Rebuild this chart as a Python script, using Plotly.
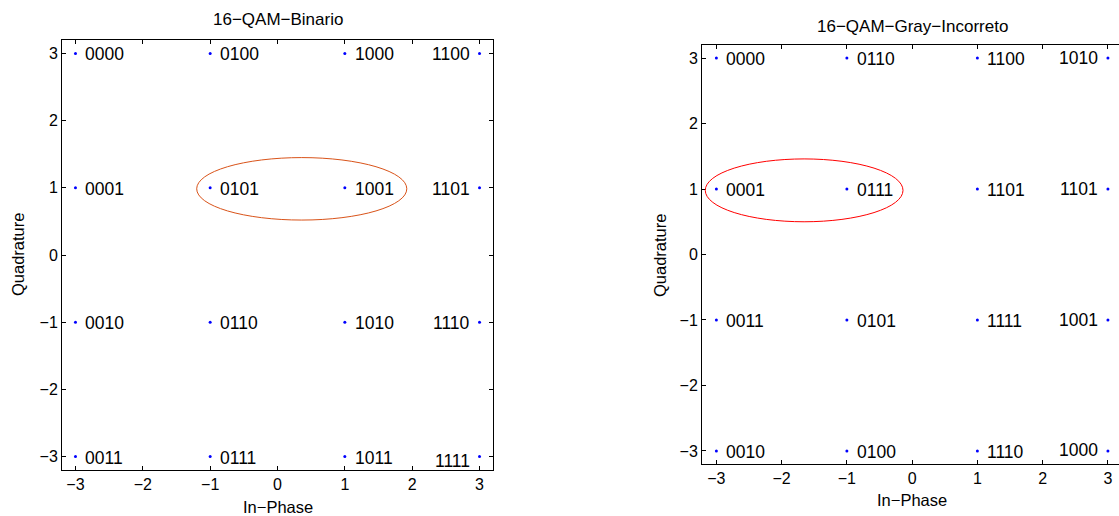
import plotly.graph_objects as go

W, H = 1119, 516

# ---------------- data ----------------
in_phase = [-3, -1, 1, 3]          # column positions (I)
quadrature = [3, 1, -1, -3]        # row positions (Q)

binario_labels = [
    ["0000", "0100", "1000", "1100"],
    ["0001", "0101", "1001", "1101"],
    ["0010", "0110", "1010", "1110"],
    ["0011", "0111", "1011", "1111"],
]
gray_labels = [
    ["0000", "0110", "1100", "1010"],
    ["0001", "0111", "1101", "1101"],
    ["0011", "0101", "1111", "1001"],
    ["0010", "0100", "1110", "1000"],
]
# ellipse bounds (x0, x1, y0, y1) in data units
ellipse_binario = [-1.20, 1.92, 0.52, 1.45]
ellipse_gray = [-3.17, -0.14, 0.50, 1.46]

titles = ["16\u2212QAM\u2212Binario", "16\u2212QAM\u2212Gray\u2212Incorreto"]
xlabel = "In\u2212Phase"
ylabel = "Quadrature"
ticks = [-3, -2, -1, 0, 1, 2, 3]

# ---------------- style ----------------
FONT = "Liberation Sans, Arial, Helvetica, sans-serif"
# pixel boxes of the two axes: (left, right, top, bottom)
boxes = [(62, 493, 40, 470), (702, 1119, 45, 464)]
xranges = [[-3.2, 3.2], [-3.22, 3.17]]
yranges = [[-3.2, 3.2], [-3.2, 3.2]]
ellipse_colors = ["#D95319", "#FF0000"]
# small vertical tweaks seen in the reference text placement
label_yshift = [{"1111": -3}, {"1010": 1, "1101r": 1, "1001": 1, "1000": 2}]

fig = go.Figure()

for k, labels in enumerate([binario_labels, gray_labels]):
    xs = [x for q in quadrature for x in in_phase]
    ys = [q for q in quadrature for x in in_phase]
    xa = "x" if k == 0 else "x2"
    ya = "y" if k == 0 else "y2"
    fig.add_trace(go.Scatter(
        x=xs, y=ys, mode="markers", xaxis=xa, yaxis=ya,
        marker=dict(color="#0000FF", size=3), hoverinfo="skip", showlegend=False,
    ))
    for r, q in enumerate(quadrature):
        for c, x in enumerate(in_phase):
            txt = labels[r][c]
            right_col = (x == 3)
            key = txt + ("r" if (right_col and txt == "1101" and k == 1) else "")
            fig.add_annotation(
                x=x, y=q, xref=xa, yref=ya, text=txt, showarrow=False,
                xanchor="right" if right_col else "left",
                xshift=-8 if right_col else 8,
                yshift=label_yshift[k].get(key, 0) - 1,
                font=dict(family=FONT, size=17.5, color="black"),
            )

# ellipses
for k, (e, col) in enumerate(zip([ellipse_binario, ellipse_gray], ellipse_colors)):
    fig.add_shape(type="circle", xref="x" if k == 0 else "x2", yref="y" if k == 0 else "y2",
                  x0=e[0], x1=e[1], y0=e[2], y1=e[3],
                  line=dict(color=col, width=1), layer="above")

axis_common = dict(
    tickvals=ticks, ticks="inside", ticklen=4, tickwidth=1, tickcolor="black",
    showline=True, linecolor="black", linewidth=1, showgrid=False, zeroline=False,
    tickfont=dict(family=FONT, size=16, color="black"), automargin=False,
)

layout_axes = {}
for k, (l, r, t, b) in enumerate(boxes):
    sx = "xaxis" if k == 0 else "xaxis2"
    sy = "yaxis" if k == 0 else "yaxis2"
    layout_axes[sx] = dict(axis_common, domain=[l / W, r / W], range=xranges[k],
                           anchor="y" if k == 0 else "y2", mirror="ticks")
    layout_axes[sy] = dict(axis_common, domain=[1 - b / H, 1 - t / H], range=yranges[k],
                           anchor="x" if k == 0 else "x2",
                           mirror="ticks" if k == 0 else False)

fig.update_layout(
    width=W, height=H, margin=dict(l=0, r=0, t=0, b=0),
    paper_bgcolor="white", plot_bgcolor="white", showlegend=False,
    **layout_axes,
)

# titles and axis labels
title_pos = [(278, 20), (912, 27)]
xlabel_pos = [(278, 507), (912, 500)]
ylabel_pos = [(18, 255), (660, 255)]
for k in range(2):
    fig.add_annotation(x=title_pos[k][0] / W, y=1 - title_pos[k][1] / H, xref="paper", yref="paper",
                       text=titles[k], showarrow=False, xanchor="center", yanchor="middle",
                       font=dict(family=FONT, size=17, color="black"))
    fig.add_annotation(x=xlabel_pos[k][0] / W, y=1 - xlabel_pos[k][1] / H, xref="paper", yref="paper",
                       text=xlabel, showarrow=False, xanchor="center", yanchor="middle",
                       font=dict(family=FONT, size=16.5, color="black"))
    fig.add_annotation(x=ylabel_pos[k][0] / W, y=1 - ylabel_pos[k][1] / H, xref="paper", yref="paper",
                       text=ylabel, showarrow=False, xanchor="center", yanchor="middle", textangle=-90,
                       font=dict(family=FONT, size=16.5, color="black"))

fig.write_html("out.html")
